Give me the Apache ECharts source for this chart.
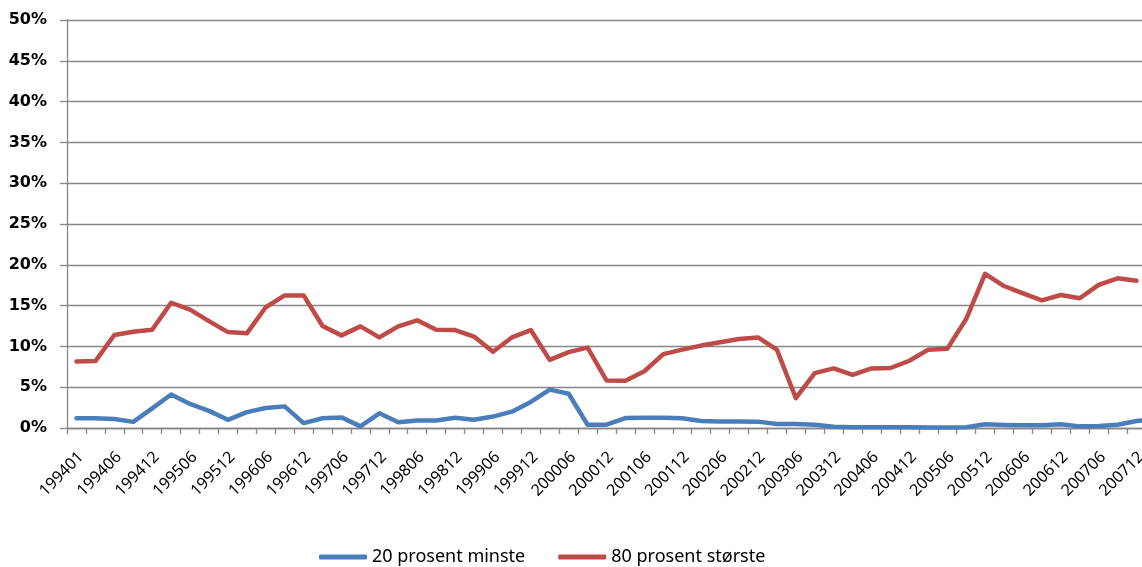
<!DOCTYPE html>
<html>
<head>
<meta charset="utf-8">
<script src="https://cdn.jsdelivr.net/npm/echarts@6/dist/echarts.min.js"></script>
<style>
html,body{margin:0;padding:0;background:#fff;}
#c{width:1142px;height:567px;}
</style>
</head>
<body>
<div id="c"></div>
<script>
const categories = ['199401','199403','199406','199409','199412','199503','199506','199509','199512',
  '199603','199606','199609','199612','199703','199706','199709','199712','199803','199806','199809','199812',
  '199903','199906','199909','199912','200003','200006','200009','200012','200103','200106','200109','200112',
  '200203','200206','200209','200212','200303','200306','200309','200312','200403','200406','200409','200412',
  '200503','200506','200509','200512','200603','200606','200609','200612','200703','200706','200709','200712'];

const seriesNames = ['20 prosent minste', '80 prosent største'];

const smallest20 = [1.2,1.2,1.1,0.75,2.4,4.1,2.95,2.1,1.0,1.95,2.45,2.65,0.6,1.2,1.3,0.2,1.8,0.7,0.93,0.93,1.25,
  1.0,1.4,2.0,3.2,4.7,4.2,0.4,0.4,1.22,1.27,1.27,1.2,0.85,0.8,0.8,0.78,0.5,0.5,0.4,0.15,
  0.08,0.1,0.1,0.08,0.05,0.05,0.1,0.45,0.38,0.33,0.33,0.45,0.2,0.25,0.4,0.85,1.05];

const largest80 = [8.15,8.2,11.4,11.8,12.05,15.35,14.5,13.1,11.75,11.6,14.8,16.25,16.25,12.5,11.35,12.45,11.1,
  12.45,13.2,12.05,12.0,11.2,9.35,11.1,12.0,8.35,9.3,9.85,5.83,5.8,6.95,9.05,9.6,10.1,10.5,10.9,11.1,9.6,3.67,
  6.73,7.3,6.5,7.3,7.35,8.24,9.6,9.7,13.35,18.9,17.4,16.5,15.65,16.3,15.9,17.55,18.35,18.05];

const yTicks = { min: 0, max: 50, interval: 5 };

const chart = echarts.init(document.getElementById('c'));
chart.setOption({
  animation: false,
  backgroundColor: '#ffffff',
  grid: { left: 67, right: -4, top: 20, bottom: 139, containLabel: false, outerBoundsMode: 'none' },
  legend: {
    left: 314, top: 543,
    itemWidth: 48, itemHeight: 5, itemGap: 33,
    icon: 'roundRect',
    textStyle: { fontFamily: 'Noto Sans', fontSize: 18, color: '#000' },
    data: seriesNames
  },
  xAxis: {
    type: 'category',
    data: categories,
    boundaryGap: true,
    axisLine: { lineStyle: { color: '#868686', width: 1.3 } },
    axisTick: { show: true, interval: 0, length: 6, lineStyle: { color: '#868686', width: 1.3 } },
    axisLabel: {
      interval: 1, rotate: 45, margin: 22,
      align: 'right', verticalAlign: 'top', lineHeight: 13,
      fontFamily: 'Noto Sans', fontSize: 16, color: '#000'
    },
    splitLine: { show: false }
  },
  yAxis: {
    type: 'value',
    min: yTicks.min, max: yTicks.max, interval: yTicks.interval,
    axisLine: { show: true, lineStyle: { color: '#868686', width: 1.3 } },
    axisTick: { show: true, length: 7, lineStyle: { color: '#868686', width: 1.3 } },
    axisLabel: {
      formatter: '{value}%', margin: 20,
      fontFamily: 'DejaVu Sans', fontWeight: 'bold', fontSize: 16, color: '#000'
    },
    splitLine: { show: true, lineStyle: { color: '#868686', width: 1.3 } }
  },
  series: [
    {
      name: seriesNames[0], type: 'line', data: smallest20,
      symbol: 'none', color: '#4A7EBB',
      lineStyle: { width: 4.5, color: '#4A7EBB', join: 'round', cap: 'round' }
    },
    {
      name: seriesNames[1], type: 'line', data: largest80,
      symbol: 'none', color: '#BE4B48',
      lineStyle: { width: 4.5, color: '#BE4B48', join: 'round', cap: 'round' }
    }
  ]
});
</script>
</body>
</html>
